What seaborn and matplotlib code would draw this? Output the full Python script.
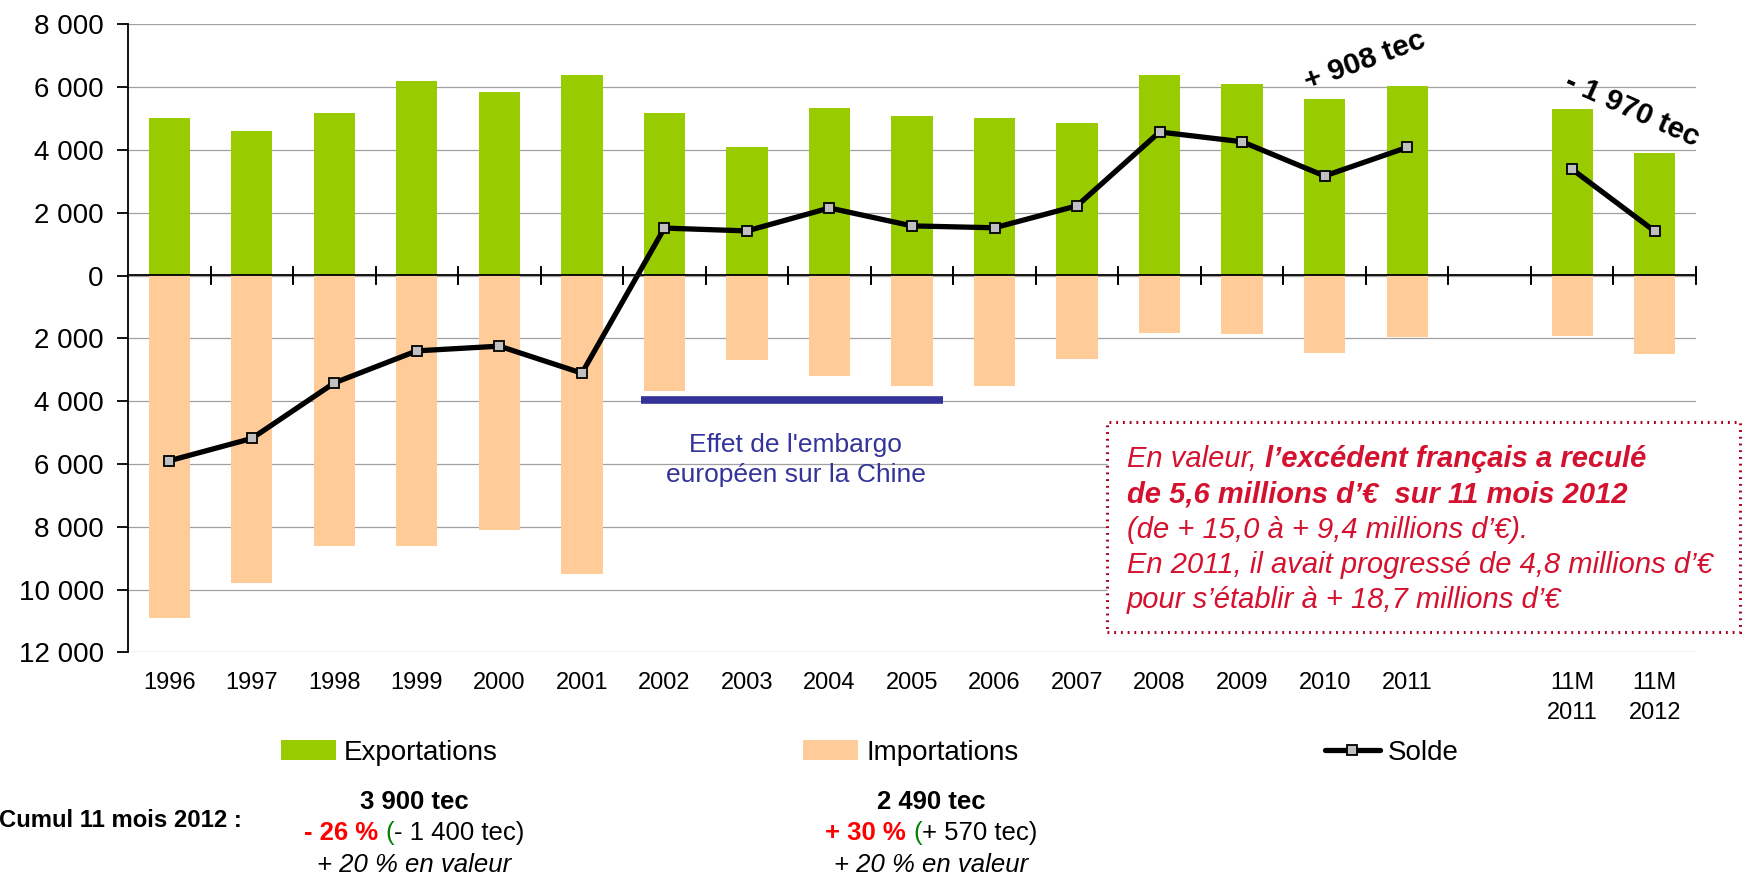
import numpy as np
import pandas as pd
import matplotlib
matplotlib.use("Agg")
import matplotlib.pyplot as plt
import seaborn as sns
from matplotlib.patches import Rectangle, Patch
from matplotlib.lines import Line2D
from matplotlib.text import Annotation
import matplotlib.transforms as mtransforms

# ---- data (tonnes équivalent carcasse) ----
categories = ["1996", "1997", "1998", "1999", "2000", "2001", "2002", "2003",
              "2004", "2005", "2006", "2007", "2008", "2009", "2010", "2011",
              "11M\n2011", "11M\n2012"]
exports = [5000, 4610, 5180, 6200, 5850, 6390, 5180, 4100, 5340, 5090,
           5030, 4870, 6390, 6110, 5630, 6040, 5300, 3900]
imports = [10900, 9800, 8600, 8600, 8100, 9500, 3670, 2680, 3190, 3510,
           3510, 2650, 1820, 1850, 2460, 1960, 1920, 2490]
y_ticks = [-12000, -10000, -8000, -6000, -4000, -2000, 0, 2000, 4000, 6000, 8000]

GREEN = "#99CC00"
PEACH = "#FFCC99"
NAVY = "#333399"
CRIMSON = "#D4112F"

# annual years first, then a blank slot, then the 11-month comparison
pos = np.arange(len(categories), dtype=float)
is_11m = np.array([c.startswith("11M") for c in categories])
pos[is_11m] += 1

df = pd.DataFrame({
    "cat": categories,
    "pos": pos,
    "exports": exports,
    "imports_neg": -np.array(imports),
    "solde": np.array(exports) - np.array(imports),
    "serie": np.where(is_11m, "11 mois", "annuel"),
})

sns.set_style("white")
plt.rcParams["font.family"] = ["Liberation Sans", "DejaVu Sans"]
plt.rcParams["text.color"] = "black"
plt.rcParams["xtick.color"] = "black"
plt.rcParams["ytick.color"] = "black"

W, H = 1742, 877
def fx(px):
    return px / W
def fy(py):
    return 1 - py / H

fig = plt.figure(figsize=(W / 100, H / 100), dpi=100)
ax = fig.add_axes([fx(128), fy(652.3), fx(1696) - fx(128), fy(24.3) - fy(652.3)])

sns.barplot(data=df, x="pos", y="exports", native_scale=True, width=0.5,
            color=GREEN, saturation=1, errorbar=None, linewidth=0, ax=ax, zorder=2)
sns.barplot(data=df, x="pos", y="imports_neg", native_scale=True, width=0.5,
            color=PEACH, saturation=1, errorbar=None, linewidth=0, ax=ax, zorder=2)
sns.lineplot(data=df, x="pos", y="solde", units="serie", estimator=None,
             color="black", lw=3.8, marker="s", markersize=7.5,
             markerfacecolor="#C0C0C0", markeredgecolor="black",
             markeredgewidth=1.3, ax=ax, zorder=4, legend=False)

n_slots = int(pos.max()) + 1
ax.set_xlim(-0.5, n_slots - 0.5)
ax.set_ylim(y_ticks[0], y_ticks[-1])
ax.set_xlabel("")
ax.set_ylabel("")

# y axis: absolute values with a space as thousands separator
ax.set_yticks(y_ticks)
ax.set_yticklabels([f"{abs(v):,}".replace(",", " ") for v in y_ticks])
ax.tick_params(axis="y", direction="out", length=8, width=1.3, pad=9.4,
               labelsize=20, colors="black", left=True)
ax.yaxis.grid(True, color="#A0A0A0", lw=0.9)
ax.xaxis.grid(False)
ax.set_axisbelow(True)

# category labels under the plot
ax.set_xticks(pos)
ax.set_xticklabels(categories, linespacing=1.5)
ax.tick_params(axis="x", length=0, pad=14, labelsize=17, colors="black")

for side in ("top", "right", "bottom"):
    ax.spines[side].set_visible(False)
ax.spines["left"].set_color("black")
ax.spines["left"].set_linewidth(1.3)

# zero line with slot separators
zero_loc = (0 - y_ticks[0]) / (y_ticks[-1] - y_ticks[0])
sec = ax.secondary_xaxis(zero_loc)
sec.set_xticks(np.arange(0.5, n_slots, 1.0))
sec.tick_params(axis="x", direction="inout", length=12.5, width=1.3,
                labeltop=False, labelbottom=False, top=True, bottom=True)
for sp in sec.spines.values():
    sp.set_color("black")
    sp.set_linewidth(1.3)
sec.set_zorder(5)

# embargo bracket under 2002-2005
i0 = categories.index("2002")
i1 = categories.index("2005")
ax.plot([pos[i0] - 0.28, pos[i1] + 0.37], [-3970, -3970], color=NAVY,
        lw=5.5, solid_capstyle="butt", zorder=3)
ax.text((pos[i0] + pos[i1]) / 2 + 0.09, -6572,
        "Effet de l'embargo\neuropéen sur la Chine", color=NAVY,
        fontsize=19, ha="center", va="baseline", linespacing=1.3)

# yearly change labels
ax.text(14.49, 6823, "+ 908 tec", rotation=20, rotation_mode="anchor",
        ha="center", va="center", fontsize=21.5, fontweight="bold", color="black")
ax.text(17.72, 5256, "- 1 970 tec", rotation=-24, rotation_mode="anchor",
        ha="center", va="center", fontsize=21.5, fontweight="bold", color="black")


def rich_line(x_px, y_px, pieces, size, center=False, zorder=6):
    """Draw consecutive text pieces with their own styles on one baseline."""
    s0, kw0, _ = pieces[0]
    first = fig.text(fx(x_px), fy(y_px), s0, va="baseline", ha="left",
                     fontsize=size, zorder=zorder, **kw0)
    texts = [first]
    for s, kw, gap in pieces[1:]:
        a = Annotation(s, xy=(1, 0), xycoords=texts[-1],
                       xytext=(gap * size, 0), textcoords="offset points",
                       va="bottom", ha="left", fontsize=size,
                       annotation_clip=False, **kw)
        a.set_transform(mtransforms.IdentityTransform())
        a.set_zorder(zorder)
        fig.add_artist(a)
        texts.append(a)
    if center:
        fig.canvas.draw()
        r = fig.canvas.get_renderer()
        left = texts[0].get_window_extent(r).x0
        right = texts[-1].get_window_extent(r).x1
        width = right - left
        texts[0].set_x(fx(x_px - width / 2))
    return texts


# value commentary box
fig.add_artist(Rectangle((fx(1107), fy(632)), fx(1740) - fx(1107), fy(422) - fy(632),
                         transform=fig.transFigure, facecolor="white",
                         edgecolor="#A50021", lw=2.2, linestyle=(0, (0.6, 1.6)),
                         zorder=5))
IT = {"style": "italic", "color": CRIMSON}
BI = {"style": "italic", "weight": "bold", "color": CRIMSON}
SP = 0.278
red_lines = [
    [("En valeur,", IT, 0), ("l’excédent français a reculé", BI, SP)],
    [("de 5,6 millions d’€  sur 11 mois 2012", BI, 0)],
    [("(de + 15,0 à + 9,4 millions d’€).", IT, 0)],
    [("En 2011, il avait progressé de 4,8 millions d’€", IT, 0)],
    [("pour s’établir à + 18,7 millions d’€", IT, 0)],
]
for k, pieces in enumerate(red_lines):
    rich_line(1127, 467 + 35.25 * k, pieces, size=21)

# legend
handles = [
    Patch(facecolor=GREEN, edgecolor="none"),
    Patch(facecolor=PEACH, edgecolor="none"),
    Line2D([], [], color="black", lw=3.8, marker="s", markersize=7.5,
           markerfacecolor="#C0C0C0", markeredgecolor="black", markeredgewidth=1.3),
]
fig.legend(handles, ["Exportations", "Importations", "Solde"],
           loc="center left", bbox_to_anchor=(fx(280.7), fy(752.5)), ncol=3,
           frameon=False, fontsize=20, handlelength=1.98, handleheight=0.72,
           handletextpad=0.3, columnspacing=11.0, borderpad=0, borderaxespad=0)

# 11-month cumulative figures
BOTTOM = 18.5
fig.text(fx(242), fy(826.7), "Cumul 11 mois 2012 :", fontsize=17.2,
         fontweight="bold", ha="right", va="baseline")

B = {"weight": "bold", "color": "black"}
N = {"color": "black"}
R = {"weight": "bold", "color": "#FF0000"}
G = {"color": "#008000"}
I = {"style": "italic", "color": "black"}
columns = [
    (414, [[("3 900 tec", B, 0)],
           [("- 26 %", R, 0), ("(", G, SP), ("- 1 400 tec)", N, 0)],
           [("+ 20 % en valeur", I, 0)]]),
    (931, [[("2 490 tec", B, 0)],
           [("+ 30 %", R, 0), ("(", G, SP), ("+ 570 tec)", N, 0)],
           [("+ 20 % en valeur", I, 0)]]),
]
for cx, lines in columns:
    for k, pieces in enumerate(lines):
        rich_line(cx, 809 + 31.4 * k, pieces, size=BOTTOM, center=True)

fig.savefig("out.png", dpi=100, facecolor="white")
